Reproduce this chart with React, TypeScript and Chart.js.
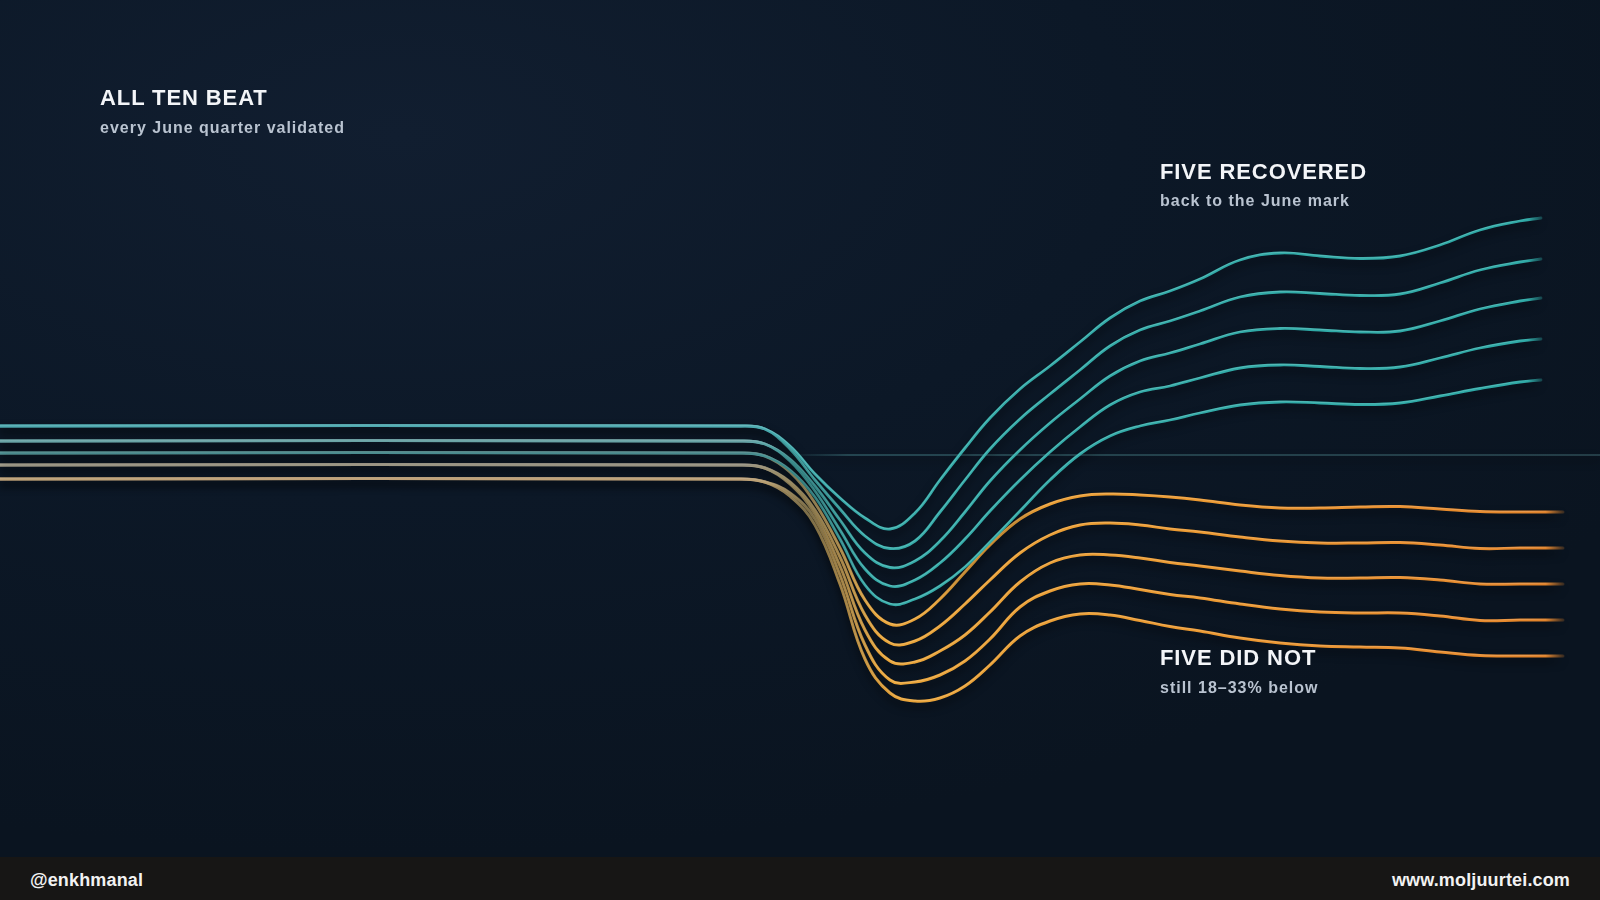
import React, { useEffect, useRef } from "react";
import { Chart, registerables } from "chart.js";
Chart.register(...registerables);

// x positions in weeks-ish units (0..160 across the frame)
const xPoints = [0, 74, 76.5, 79, 81.5, 84, 86.5, 89, 91.5, 94, 96.5, 99, 102, 105, 108, 111, 114, 117, 120, 124, 128, 132, 136, 140, 144, 148, 152, 154.1, 156.3];

// Index vs. the June mark (June = 100)
const recovered1 = [105.8, 105.8, 105.2, 101.8, 96.2, 91.4, 87.4, 85.2, 88.4, 95, 101.4, 107.4, 113.2, 117.8, 122.6, 127.4, 130.8, 132.8, 135.2, 139, 140.4, 139.8, 139.3, 139.8, 142, 145, 146.8, 147.4, null];
const recovered2 = [105.8, 105.8, 105.2, 101.2, 95, 89.2, 83.8, 81.3, 82.8, 88.6, 95, 101.2, 107.2, 112.2, 117, 121.8, 125, 126.8, 128.8, 131.6, 132.6, 132.3, 131.9, 132.2, 134.4, 137, 138.6, 139.2, null];
const recovered3 = [102.8, 102.8, 102.2, 99.2, 93.8, 87, 80.4, 77.5, 78.8, 82.8, 88.6, 94.8, 101, 106.4, 111.2, 115.8, 118.8, 120.4, 122.2, 124.6, 125.3, 125, 124.6, 124.8, 126.8, 129.2, 130.8, 131.4, null];
const recovered4 = [102.8, 102.8, 102.2, 98.8, 92.8, 85, 77.2, 73.8, 75, 78.4, 83.2, 88.8, 95, 100.6, 105.6, 110, 112.6, 113.8, 115.4, 117.4, 118, 117.7, 117.3, 117.6, 119.4, 121.4, 122.8, 123.2, null];
const recovered5 = [100.4, 100.4, 99.8, 97, 91.6, 83.2, 74, 70.2, 71.2, 73.8, 77.6, 82.6, 88.8, 95, 100.2, 103.8, 105.8, 107, 108.4, 110, 110.6, 110.4, 110.1, 110.4, 111.8, 113.3, 114.6, 115, null];

const notRecovered1 = [100.4, 100.4, 99.8, 96.6, 90.4, 81.4, 71, 66.2, 67.2, 71.2, 76.6, 82, 87.2, 90.2, 91.8, 92.2, 92, 91.6, 91, 90, 89.4, 89.4, 89.6, 89.7, 89.2, 88.7, 88.6, 88.6, 88.6];
const notRecovered2 = [98, 98, 97.4, 94.6, 89, 79.6, 68, 62.4, 62.8, 65.8, 70.2, 75, 80.4, 84, 86, 86.4, 86, 85.2, 84.6, 83.6, 82.8, 82.4, 82.4, 82.5, 82, 81.3, 81.4, 81.4, 81.4];
const notRecovered3 = [98, 98, 97.4, 94.2, 88.2, 77.8, 65, 58.8, 58.6, 60.8, 64, 68.6, 74.6, 78.4, 80, 80, 79.4, 78.5, 77.8, 76.8, 75.9, 75.4, 75.4, 75.5, 75, 74.2, 74.2, 74.2, 74.2];
const notRecovered4 = [95.2, 95.2, 94.6, 92.4, 87.2, 76, 62, 55, 54.6, 56, 58.8, 63.2, 69.6, 72.8, 74.2, 74, 73.1, 72.1, 71.4, 70.2, 69.2, 68.6, 68.4, 68.4, 67.8, 66.9, 67, 67, 67];
const notRecovered5 = [95.2, 95.2, 94.6, 91.8, 86, 74.2, 59.2, 52.4, 50.8, 51.4, 53.8, 58, 63.8, 66.8, 68.2, 68, 66.9, 65.7, 64.8, 63.4, 62.4, 61.8, 61.6, 61.4, 60.6, 59.9, 59.8, 59.8, 59.8];

const juneMarkValue = 100;
const juneMarkX = [78, 160];

const recoveredSeries = [recovered1, recovered2, recovered3, recovered4, recovered5];
const notRecoveredSeries = [notRecovered1, notRecovered2, notRecovered3, notRecovered4, notRecovered5];

const tealLeft = ["#4eaab0", "#4eaab0", "#6aa6a8", "#6aa6a8", "#4e9598"];
const orangeLeft = ["#6f968e", "#a59f8c", "#a59f8c", "#c3a57a", "#c3a57a"];

function toPoints(values: (number | null)[]) {
  const pts: { x: number; y: number }[] = [];
  values.forEach((v, i) => {
    if (v !== null) pts.push({ x: xPoints[i], y: v });
  });
  return pts;
}

function gradient(chart: any, stops: [number, string][], fallback: string) {
  const { ctx, chartArea } = chart;
  if (!chartArea) return fallback;
  const g = ctx.createLinearGradient(chartArea.left, 0, chartArea.right, 0);
  stops.forEach(([o, c]) => g.addColorStop(o, c));
  return g;
}

const shadowPlugin = {
  id: "tubeShadow",
  beforeDatasetsDraw(chart: any) {
    const ctx = chart.ctx;
    ctx.save();
    ctx.shadowColor = "rgba(0,0,0,0.6)";
    ctx.shadowBlur = 8;
    ctx.shadowOffsetX = 0;
    ctx.shadowOffsetY = 5;
  },
  afterDatasetDraw(chart: any, args: any) {
    const ds = chart.data.datasets[args.index];
    if (!ds || !ds.highlightEnd) return;
    const line = args.meta && args.meta.dataset;
    if (!line || typeof line.path !== "function") return;
    const ctx = chart.ctx;
    const end = ds.highlightEnd as number;
    try {
      ctx.save();
      ctx.shadowColor = "rgba(0,0,0,0)";
      ctx.shadowBlur = 0;
      ctx.shadowOffsetY = 0;
      ctx.translate(0, -0.6);
      ctx.beginPath();
      line.path(ctx);
      ctx.lineWidth = 0.9;
      ctx.lineCap = "round";
      ctx.lineJoin = "round";
      ctx.strokeStyle = gradient(
        chart,
        [
          [0, "rgba(255,255,255,0.12)"],
          [0.5, "rgba(255,255,255,0.2)"],
          [end - 0.02, "rgba(255,255,255,0.2)"],
          [end, "rgba(255,255,255,0)"],
          [1, "rgba(255,255,255,0)"],
        ],
        "rgba(255,255,255,0.15)"
      );
      ctx.stroke();
      ctx.restore();
    } catch (e) {
      ctx.restore();
    }
  },
  afterDatasetsDraw(chart: any) {
    chart.ctx.restore();
  },
};

export default function App() {
  const canvasRef = useRef<HTMLCanvasElement | null>(null);

  useEffect(() => {
    if (!canvasRef.current) return;
    const datasets: any[] = [];
    recoveredSeries.forEach((s, i) => {
      const left = tealLeft[i];
      datasets.push({
        label: `Recovered ${i + 1}`,
        data: toPoints(s),
        borderWidth: 2.8,
        highlightEnd: 0.96,
        borderColor: (c: any) =>
          gradient(
            c.chart,
            [
              [0, left],
              [0.465, left],
              [0.5, "#3ea9aa"],
              [0.55, "#35aca9"],
              [0.93, "#2ca8a5"],
              [0.955, "#2ea8a5"],
              [0.966, "rgba(46,168,165,0.15)"],
              [1, "rgba(46,168,165,0)"],
            ],
            "#2fa9a6"
          ),
      });
    });
    notRecoveredSeries.forEach((s, i) => {
      const left = orangeLeft[i];
      datasets.push({
        label: `Not recovered ${i + 1}`,
        data: toPoints(s),
        borderWidth: 3,
        highlightEnd: 0.975,
        borderColor: (c: any) =>
          gradient(
            c.chart,
            [
              [0, left],
              [0.465, left],
              [0.505, "#b9a266"],
              [0.55, "#eaa63a"],
              [0.75, "#eb982f"],
              [0.94, "#e5872a"],
              [0.966, "#e0822a"],
              [0.979, "rgba(224,130,42,0.1)"],
              [1, "rgba(224,130,42,0)"],
            ],
            "#e8962e"
          ),
      });
    });
    datasets.push({
      label: "June mark",
      data: juneMarkX.map((x) => ({ x, y: juneMarkValue })),
      borderWidth: 2,
      tension: 0,
      borderColor: (c: any) =>
        gradient(
          c.chart,
          [
            [0, "rgba(40,80,90,0)"],
            [0.49, "rgba(40,80,90,0)"],
            [0.53, "rgba(45,85,95,0.75)"],
            [1, "rgba(45,75,85,0.75)"],
          ],
          "rgba(45,85,95,0.7)"
        ),
    });

    const chart = new Chart(canvasRef.current, {
      type: "line",
      data: { datasets },
      options: {
        animation: false,
        responsive: false,
        maintainAspectRatio: false,
        events: [],
        layout: { padding: 0 },
        plugins: {
          legend: { display: false },
          tooltip: { enabled: false },
          title: { display: false },
        },
        elements: {
          point: { radius: 0 },
          line: { tension: 0.4, borderCapStyle: "round", borderJoinStyle: "round" },
        },
        scales: {
          x: { type: "linear", min: 0, max: 160, display: false },
          y: { type: "linear", min: 11, max: 191, display: false },
        },
      },
      plugins: [shadowPlugin],
    });
    return () => chart.destroy();
  }, []);

  const font = '"Liberation Sans", Arial, Helvetica, sans-serif';
  const title: React.CSSProperties = {
    position: "absolute",
    fontFamily: font,
    fontWeight: 700,
    fontSize: 22,
    lineHeight: "22px",
    letterSpacing: "0.9px",
    color: "#f3f5f8",
    whiteSpace: "nowrap",
  };
  const sub: React.CSSProperties = {
    position: "absolute",
    fontFamily: font,
    fontWeight: 700,
    fontSize: 16,
    lineHeight: "16px",
    letterSpacing: "1px",
    color: "#b9c3d0",
    whiteSpace: "nowrap",
  };
  const foot: React.CSSProperties = {
    position: "absolute",
    fontFamily: font,
    fontWeight: 700,
    fontSize: 18,
    lineHeight: "18px",
    letterSpacing: "0.15px",
    color: "#f2f2f2",
    whiteSpace: "nowrap",
    top: 871,
  };

  return (
    <div
      style={{
        position: "absolute",
        left: 0,
        top: 0,
        width: 1600,
        height: 900,
        overflow: "hidden",
        background:
          "radial-gradient(ellipse 90% 80% at 25% 15%, #111e30 0%, #0c1827 50%, #0a1420 100%)",
      }}
    >
      <canvas
        ref={canvasRef}
        width={1600}
        height={900}
        style={{ position: "absolute", left: 0, top: 0, width: 1600, height: 900 }}
      />
      <div style={{ ...title, left: 100, top: 87 }}>ALL TEN BEAT</div>
      <div style={{ ...sub, left: 100, top: 120 }}>every June quarter validated</div>
      <div style={{ ...title, left: 1160, top: 161 }}>FIVE RECOVERED</div>
      <div style={{ ...sub, left: 1160, top: 193 }}>back to the June mark</div>
      <div style={{ ...title, left: 1160, top: 647 }}>FIVE DID NOT</div>
      <div style={{ ...sub, left: 1160, top: 680 }}>still 18–33% below</div>
      <div
        style={{
          position: "absolute",
          left: 0,
          top: 857,
          width: 1600,
          height: 43,
          background: "#171615",
        }}
      />
      <div style={{ ...foot, left: 30 }}>@enkhmanal</div>
      <div style={{ ...foot, right: 30 }}>www.moljuurtei.com</div>
    </div>
  );
}
